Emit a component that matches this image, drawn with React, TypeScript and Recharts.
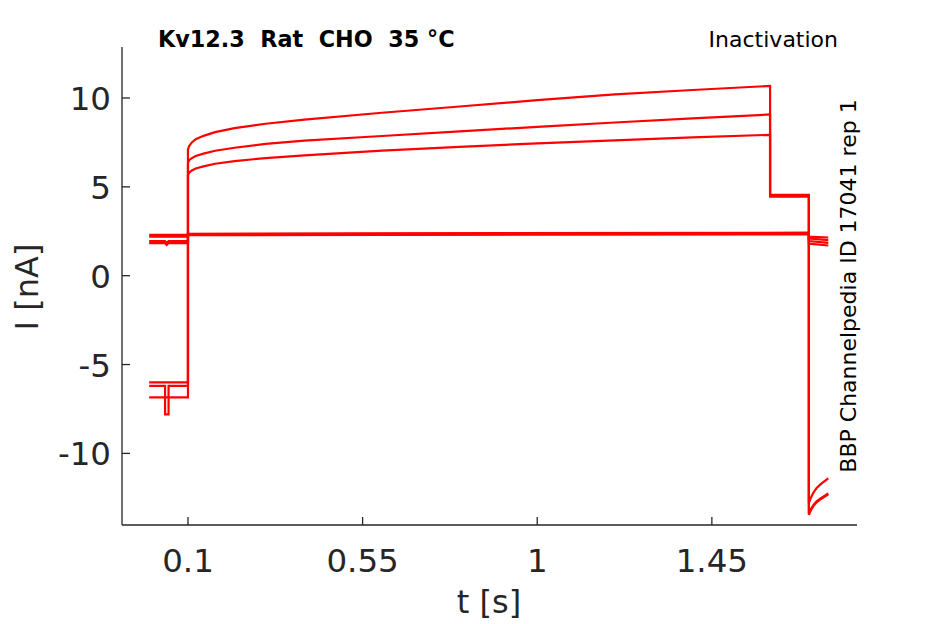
import { LineChart, Line, XAxis, YAxis } from "recharts"

// time grid (s) and tick labels
const xTicks = [0.1, 0.55, 1, 1.45]
const yTicks = [-10, -5, 0, 5, 10]

// activating sweeps: holding level before the step (nA)
const activePre = [-6.0, -6.2, -6.85]
const dipTimes = [0.041, 0.05]
const dipLevel = -7.8
const dipSweep = 1

// slow rise during the 1.5 s step
const riseTimes = [0.1, 0.103, 0.11, 0.12, 0.14, 0.17, 0.22, 0.3, 0.4, 0.6, 0.8, 1.0, 1.2, 1.4, 1.6]
const rise1 = [7.1, 7.3, 7.5, 7.68, 7.87, 8.08, 8.3, 8.55, 8.78, 9.17, 9.52, 9.88, 10.2, 10.45, 10.68]
const rise2 = [6.35, 6.5, 6.62, 6.74, 6.87, 7.03, 7.2, 7.42, 7.6, 7.86, 8.12, 8.38, 8.62, 8.85, 9.07]
const rise3 = [5.65, 5.8, 5.92, 6.03, 6.15, 6.3, 6.45, 6.62, 6.77, 7.04, 7.25, 7.45, 7.62, 7.78, 7.93]
const plateau = [4.55, 4.5, 4.45]

// tail currents after the second step
const tailTimes = [1.7, 1.705, 1.712, 1.72, 1.732, 1.75]
const tail1 = [-12.8, -12.5, -12.2, -11.95, -11.7, -11.4]
const tail2 = [-13.45, -13.2, -12.95, -12.75, -12.55, -12.3]
const tail3 = [-13.4, -13.15, -12.9, -12.7, -12.5, -12.25]

// non-activating sweeps
const flatPre = [2.3, 2.2, 1.95, 1.83]
const flatStart = [2.33, 2.3, 2.36, 2.28]
const flatEnd = [2.4, 2.36, 2.42, 2.33]
const flatPost = [2.2, 2.1, 1.95, 1.8]
const flatPostEnd = [2.15, 2.0, 1.85, 1.7]

const rises = [rise1, rise2, rise3]
const tails = [tail1, tail2, tail3]

type Pt = { t: number; I: number }

function activeSweep(i: number): Pt[] {
  const pre = activePre[i]
  const pts: Pt[] = [{ t: 0, I: pre }]
  if (i === dipSweep) {
    pts.push(
      { t: dipTimes[0], I: pre },
      { t: dipTimes[0], I: dipLevel },
      { t: dipTimes[1], I: dipLevel },
      { t: dipTimes[1], I: pre }
    )
  }
  pts.push({ t: 0.1, I: pre })
  riseTimes.forEach((t, k) => pts.push({ t, I: rises[i][k] }))
  pts.push({ t: 1.6, I: plateau[i] }, { t: 1.7, I: plateau[i] })
  tailTimes.forEach((t, k) => pts.push({ t, I: tails[i][k] }))
  return pts
}

function flatSweep(i: number): Pt[] {
  const pre = flatPre[i]
  const pts: Pt[] = [{ t: 0, I: pre }]
  if (i >= 2) {
    pts.push(
      { t: dipTimes[0], I: pre },
      { t: dipTimes[0] + 0.004, I: pre - 0.1 },
      { t: dipTimes[1], I: pre }
    )
  }
  pts.push(
    { t: 0.1, I: pre },
    { t: 0.1, I: flatStart[i] },
    { t: 1.7, I: flatEnd[i] },
    { t: 1.7, I: flatPost[i] },
    { t: 1.75, I: flatPostEnd[i] }
  )
  return pts
}

const sweeps = [...activePre.map((_, i) => activeSweep(i)), ...flatPre.map((_, i) => flatSweep(i))]

const W = 945
const H = 624
const LEFT = 122
const RIGHT = 857
const TOP = 47
const BOTTOM = 525
const INK = "#262626"
const FONT = "DejaVu Sans, sans-serif"

const XTick = (props: any) => {
  const { x, payload } = props
  return (
    <g>
      <line x1={x} x2={x} y1={BOTTOM} y2={BOTTOM - 8} stroke={INK} strokeWidth={1.3} />
      <text x={x} y={572} textAnchor="middle" fontSize={32.5} fill={INK} fontFamily={FONT}>
        {String(payload.value)}
      </text>
    </g>
  )
}

const YTick = (props: any) => {
  const { y, payload } = props
  return (
    <g>
      <line x1={LEFT} x2={LEFT + 8} y1={y} y2={y} stroke={INK} strokeWidth={1.3} />
      <text x={111} y={y + 12} textAnchor="end" fontSize={32.5} fill={INK} fontFamily={FONT}>
        {String(payload.value)}
      </text>
    </g>
  )
}

export default function App() {
  return (
    <div style={{ position: "absolute", left: 0, top: 0, width: W, height: H, background: "#fff" }}>
      <LineChart
        width={W}
        height={H}
        margin={{ top: TOP, right: W - RIGHT, bottom: H - BOTTOM - 60, left: LEFT - 60 }}
      >
        <XAxis
          type="number"
          dataKey="t"
          domain={[-0.07, 1.824]}
          ticks={xTicks}
          allowDataOverflow
          height={60}
          axisLine={{ stroke: INK, strokeWidth: 1.3 }}
          tickLine={false}
          tick={XTick}
        />
        <YAxis
          type="number"
          dataKey="I"
          domain={[-14.03, 12.87]}
          ticks={yTicks}
          allowDataOverflow
          width={60}
          axisLine={{ stroke: INK, strokeWidth: 1.3 }}
          tickLine={false}
          tick={YTick}
        />
        {sweeps.map((d, i) => (
          <Line
            key={i}
            data={d}
            dataKey="I"
            type="linear"
            stroke="#ff0000"
            strokeWidth={2.2}
            dot={false}
            isAnimationActive={false}
          />
        ))}
      </LineChart>
      <svg
        width={W}
        height={H}
        style={{ position: "absolute", left: 0, top: 0, pointerEvents: "none" }}
        fontFamily={FONT}
      >
        <text x={158} y={47} fontSize={22.3} fontWeight="bold" fill="#000" style={{ whiteSpace: "pre" }}>
          {"Kv12.3  Rat  CHO  35 °C"}
        </text>
        <text x={838} y={47} fontSize={22} textAnchor="end" fill="#000">
          Inactivation
        </text>
        <text transform="translate(856,286) rotate(-90)" fontSize={22} textAnchor="middle" fill="#000">
          BBP Channelpedia ID 17041 rep 1
        </text>
        <text transform="translate(38,287) rotate(-90)" fontSize={32} textAnchor="middle" fill={INK}>
          I [nA]
        </text>
        <text x={489} y={613} fontSize={32} textAnchor="middle" fill={INK}>
          t [s]
        </text>
      </svg>
    </div>
  )
}
